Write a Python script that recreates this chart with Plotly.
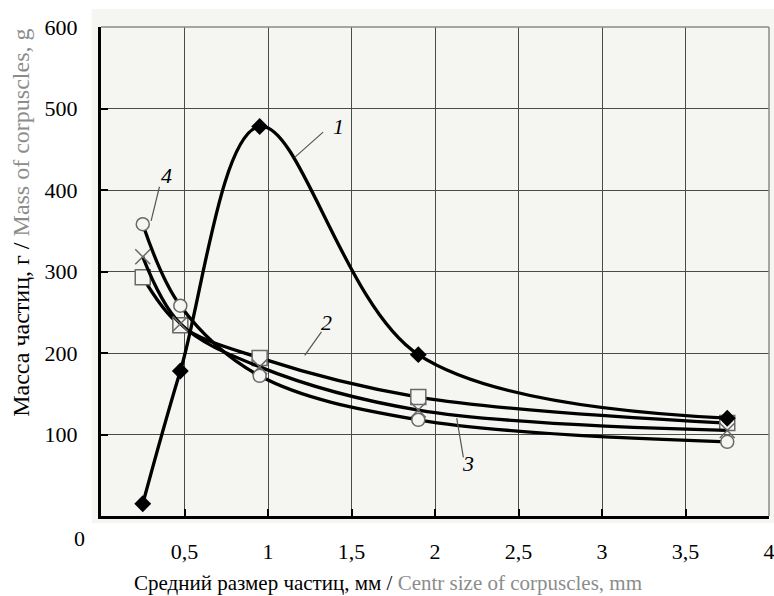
import plotly.graph_objects as go

# ---- data ----
x_size = [0.25, 0.475, 0.95, 1.9, 3.75]
curve1 = [15, 178, 478, 198, 120]      # filled diamonds
curve2 = [293, 234, 194, 146, 114]     # open squares
curve3 = [318, 236, 183, 130, 105]     # crosses
curve4 = [358, 258, 172, 118, 91]      # open circles

x_ticks = [0.5, 1, 1.5, 2, 2.5, 3, 3.5, 4]
x_ticktext = ["0,5", "1", "1,5", "2", "2,5", "3", "3,5", "4"]
y_ticks = [100, 200, 300, 400, 500, 600]
y_ticktext = ["100", "200", "300", "400", "500", "600"]

FONT = "Times New Roman"
BG = "#f5f5f2"
MK = "#6a6a6a"

fig = go.Figure()

line_style = dict(color="black", width=3.3, shape="spline", smoothing=1.0)

fig.add_trace(go.Scatter(x=x_size, y=curve2, mode="lines+markers", line=line_style,
                         marker=dict(symbol="square", size=15, color=BG,
                                     line=dict(color=MK, width=1.5))))
fig.add_trace(go.Scatter(x=x_size, y=curve3, mode="lines+markers", line=line_style,
                         marker=dict(symbol="x-thin", size=15, color=MK,
                                     line=dict(color=MK, width=1.5))))
fig.add_trace(go.Scatter(x=x_size, y=curve4, mode="lines+markers", line=line_style,
                         marker=dict(symbol="circle", size=13, color=BG,
                                     line=dict(color=MK, width=1.5))))
fig.add_trace(go.Scatter(x=x_size, y=curve1, mode="lines+markers", line=line_style,
                         marker=dict(symbol="diamond", size=13, color="black",
                                     line=dict(color="black", width=0))))

# curve labels with leader lines (data coordinates)
labels = [
    ("1", 1.42, 478, 1.16, 440, 1.33, 471),
    ("2", 1.35, 237, 1.22, 197, 1.32, 226),
    ("3", 2.2, 65, 2.13, 120, 2.17, 72),
    ("4", 0.39, 418, 0.30, 362, 0.35, 404),
]
for txt, tx, ty, x0, y0, x1, y1 in labels:
    fig.add_annotation(x=tx, y=ty, text="<i>" + txt + "</i>", showarrow=False,
                       xanchor="center", yanchor="middle",
                       font=dict(family=FONT, size=22, color="black"),
                       xref="x", yref="y")
    fig.add_shape(type="line", x0=x0, y0=y0, x1=x1, y1=y1, xref="x", yref="y",
                  line=dict(color="#555555", width=1.2), layer="above")

# light background panel extending a bit beyond the plot area
fig.add_shape(type="rect", xref="paper", yref="paper",
              x0=-0.014, x1=1.01, y0=-0.015, y1=1.037,
              fillcolor=BG, line=dict(width=0), layer="below")

fig.update_layout(
    width=774, height=596,
    margin=dict(l=101, r=5, t=27, b=80),
    paper_bgcolor="white", plot_bgcolor=BG,
    showlegend=False,
    font=dict(family=FONT, size=22, color="black"),
    xaxis=dict(range=[0, 4], tickvals=x_ticks, ticktext=x_ticktext,
               showgrid=True, gridcolor="#4a4a4a", gridwidth=1.4,
               showline=True, linecolor="black", linewidth=3,
               ticks="inside", ticklen=7, tickwidth=2, tickcolor="black",
               ticklabelstandoff=14, zeroline=False, automargin=False,
               ticklabeloverflow="allow",
               tickfont=dict(family=FONT, size=22, color="black")),
    yaxis=dict(range=[0, 600], tickvals=y_ticks, ticktext=y_ticktext,
               showgrid=True, gridcolor="#4a4a4a", gridwidth=1.4,
               showline=True, linecolor="black", linewidth=3,
               ticks="inside", ticklen=7, tickwidth=2, tickcolor="black",
               ticklabelstandoff=16, zeroline=False, automargin=False,
               ticklabeloverflow="allow",
               tickfont=dict(family=FONT, size=22, color="black")),
)

# top and right frame (thin gray)
fig.add_shape(type="line", xref="paper", yref="paper", x0=0, x1=1, y0=1, y1=1,
              line=dict(color="#8a8a8a", width=1.5), layer="above")
fig.add_shape(type="line", xref="paper", yref="paper", x0=1, x1=1, y0=0, y1=1,
              line=dict(color="#8a8a8a", width=1.5), layer="above")

# origin label
fig.add_annotation(x=-0.032, y=-0.045, xref="paper", yref="paper", text="0",
                   xanchor="center", yanchor="middle",
                   showarrow=False, font=dict(family=FONT, size=22, color="black"))

# axis titles
fig.add_annotation(x=0.43, y=-0.137, xref="paper", yref="paper",
                   xanchor="center", yanchor="middle",
                   text="Средний размер частиц, мм / <span style='color:#8c8c8c'>Centr size of corpuscles, mm</span>",
                   showarrow=False, font=dict(family=FONT, size=21, color="black"))
fig.add_annotation(x=-0.121, y=0.60, xref="paper", yref="paper", textangle=-90,
                   xanchor="center", yanchor="middle",
                   text="Масса частиц, г / <span style='color:#8c8c8c'>Mass of corpuscles, g</span>",
                   showarrow=False, font=dict(family=FONT, size=24, color="black"))

fig.write_html("out.html")
